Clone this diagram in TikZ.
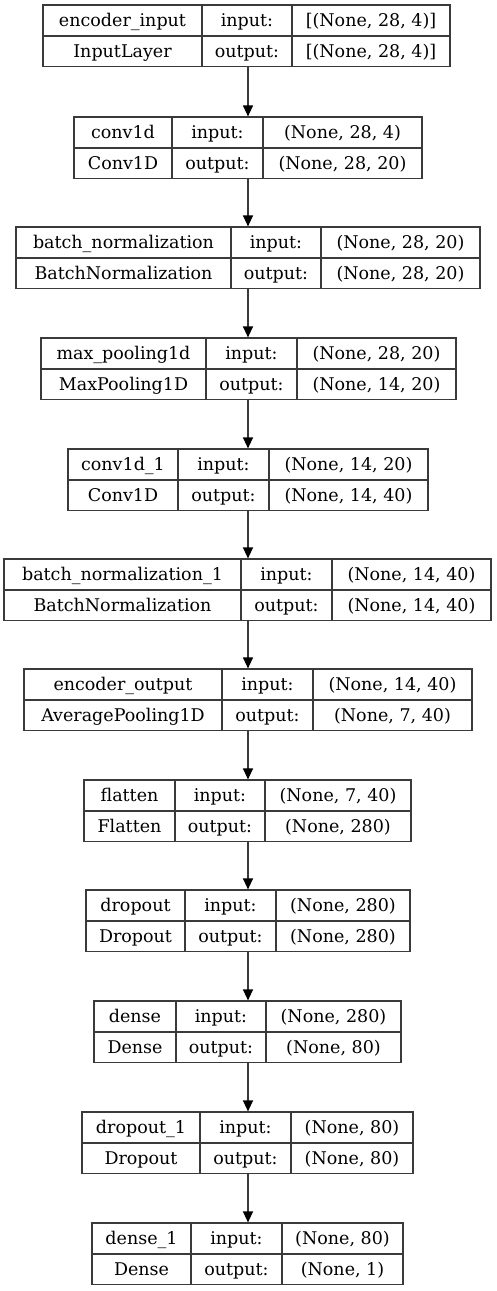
\documentclass[tikz,border=0pt]{standalone}
\usepackage{fontspec}
\setmainfont{DejaVu Serif}
\usetikzlibrary{arrows.meta}
\definecolor{lncol}{HTML}{3A3A3A}
\tikzset{
  x=1pt, y=-1pt,
  box/.style={draw=lncol, line width=1.3pt, inner sep=0pt, outer sep=0pt},
  ln/.style={draw=lncol, line width=1.3pt},
  txt/.style={inner sep=0pt, font=\fontsize{17.5}{21}\selectfont, text=black},
  arr/.style={draw=lncol, line width=1.3pt, -{Triangle[length=11pt,width=10pt,color=black]}, shorten >=0.6pt}
}
\newcommand\lyr[6]{%
  \node[box, anchor=north west, minimum width={(#6-#3)*1pt}, minimum height=61.5pt] (#1) at (#3,#2) {};
  \draw[ln] (#3,#2+31) -- (#6,#2+31);
  \draw[ln] (#4,#2) -- (#4,#2+61.5);
  \draw[ln] (#5,#2) -- (#5,#2+61.5);
  \coordinate (#1-a1) at ({(#3+#4)/2},#2+21.5);
  \coordinate (#1-b1) at ({(#4+#5)/2},#2+21.5);
  \coordinate (#1-c1) at ({(#5+#6)/2},#2+21.5);
  \coordinate (#1-a2) at ({(#3+#4)/2},#2+52.5);
  \coordinate (#1-b2) at ({(#4+#5)/2},#2+52.5);
  \coordinate (#1-c2) at ({(#5+#6)/2},#2+52.5);
}
\newcommand\lbls[5]{%
  \node[txt, anchor=base] (#1-name) at (#1-a1) {#2};
  \node[txt, anchor=base] (#1-cls) at (#1-a2) {#3};
  \node[txt, anchor=base] (#1-inl) at (#1-b1) {input:};
  \node[txt, anchor=base] (#1-outl) at (#1-b2) {output:};
  \node[txt, anchor=base] (#1-in) at (#1-c1) {#4};
  \node[txt, anchor=base] (#1-out) at (#1-c2) {#5};
}
\begin{document}
\begin{tikzpicture}
\useasboundingbox[fill=white] (0,0) rectangle (496,1291);
\coordinate (X) at (248,0);

\lyr{L1}{5}{43}{202}{292}{450}
\lbls{L1}{encoder\_input}{InputLayer}{[(None, 28, 4)]}{[(None, 28, 4)]}

\lyr{L2}{117}{74}{172}{263}{422}
\lbls{L2}{conv1d}{Conv1D}{(None, 28, 4)}{(None, 28, 20)}

\lyr{L3}{227}{16}{231}{321}{480}
\lbls{L3}{batch\_normalization}{BatchNormalization}{(None, 28, 20)}{(None, 28, 20)}

\lyr{L4}{338}{41}{206}{297}{456}
\lbls{L4}{max\_pooling1d}{MaxPooling1D}{(None, 28, 20)}{(None, 14, 20)}

\lyr{L5}{449}{68}{178}{269}{428}
\lbls{L5}{conv1d\_1}{Conv1D}{(None, 14, 20)}{(None, 14, 40)}

\lyr{L6}{559}{4}{241}{332}{491}
\lbls{L6}{batch\_normalization\_1}{BatchNormalization}{(None, 14, 40)}{(None, 14, 40)}

\lyr{L7}{669}{24}{222}{313}{472}
\lbls{L7}{encoder\_output}{AveragePooling1D}{(None, 14, 40)}{(None, 7, 40)}

\lyr{L8}{780}{84}{175}{265}{411}
\lbls{L8}{flatten}{Flatten}{(None, 7, 40)}{(None, 280)}

\lyr{L9}{890}{86}{185}{276}{410}
\lbls{L9}{dropout}{Dropout}{(None, 280)}{(None, 280)}

\lyr{L10}{1001}{94}{176}{266}{401}
\lbls{L10}{dense}{Dense}{(None, 280)}{(None, 80)}

\lyr{L11}{1112}{82}{200}{291}{413}
\lbls{L11}{dropout\_1}{Dropout}{(None, 80)}{(None, 80)}

\lyr{L12}{1223}{92}{191}{282}{403}
\lbls{L12}{dense\_1}{Dense}{(None, 80)}{(None, 1)}

\foreach \a/\b in {L1/L2,L2/L3,L3/L4,L4/L5,L5/L6,L6/L7,L7/L8,L8/L9,L9/L10,L10/L11,L11/L12}{
  \draw[arr] (\a.south -| X) -- (\b.north -| X);
}
\end{tikzpicture}
\end{document}
